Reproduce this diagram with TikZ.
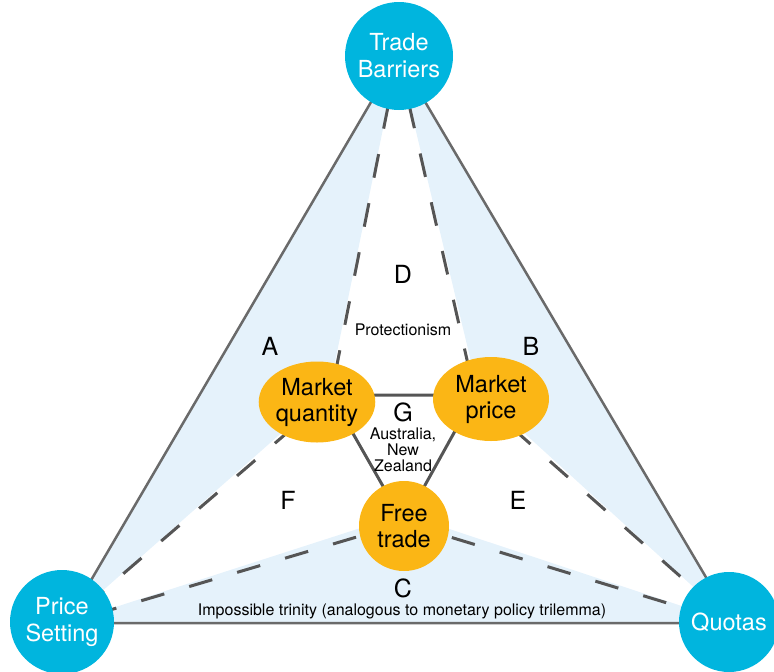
\documentclass[tikz,border=0pt]{standalone}
\usepackage{fontspec}
\setmainfont{TeX Gyre Heros}
\usetikzlibrary{shapes.geometric}
\definecolor{cyanc}{HTML}{00B5DE}
\definecolor{orangec}{HTML}{FBB615}
\definecolor{bluefill}{HTML}{E5F2FB}
\definecolor{linegray}{HTML}{6A6A6A}
\definecolor{dashgray}{HTML}{555555}
\begin{document}
\begin{tikzpicture}[x=1pt,y=-1pt,
  outerline/.style={draw=linegray, line width=2.5pt},
  innerline/.style={draw=dashgray, line width=3pt},
  dashline/.style={draw=dashgray, line width=3pt, dash pattern=on 24pt off 26pt},
  bigcirc/.style={circle, fill=cyanc, inner sep=0pt, minimum size=#1, text=white, align=center, font=\fontsize{23.5}{27}\selectfont},
  oval/.style={ellipse, fill=orangec, inner sep=0pt, align=center, font=\fontsize{23.5}{26}\selectfont},
  regionlabel/.style={font=\fontsize{25}{28}\selectfont},
  smalltext/.style={font=\fontsize{16}{16}\selectfont, align=center, inner sep=0pt}
]
\useasboundingbox (0,0) rectangle (774,672);
% hubs
\coordinate (tbh) at (398,56);
\coordinate (psh) at (66,623);
\coordinate (qh) at (733,623);
\coordinate (hq) at (331,395);
\coordinate (hp) at (475,395);
\coordinate (hf) at (404,523);
% blue regions
\fill[bluefill] (tbh) -- (psh) -- (329,391) -- cycle;
\fill[bluefill] (tbh) -- (qh) -- (478,391) -- cycle;
\fill[bluefill] (psh) -- (404,514) -- (qh) -- cycle;
% outer triangle
\draw[outerline] (tbh) -- (psh) -- (qh) -- cycle;
% dashed spokes
\draw[dashline] (tbh) -- (hq);
\draw[dashline] (tbh) -- (hp);
\draw[dashline] (hq) -- (psh);
\draw[dashline] (hp) -- (qh);
\draw[dashline] (hf) -- (psh);
\draw[dashline] (hf) -- (qh);
% inner triangle
\draw[innerline] (hq) -- (hp) -- (hf) -- cycle;
% nodes
\node[bigcirc=108pt] (TB) at (399,56) {Trade\\Barriers};
\node[bigcirc=104pt] (PS) at (62,622) {Price\\Setting};
\node[bigcirc=100pt] (Q) at (729,622) {Quotas};
\node[oval, minimum width=110pt, minimum height=81pt] (MQ) at (317,402) {Market\\quantity};
\node[oval, minimum width=116pt, minimum height=84pt] (MP) at (491,399) {Market\\price};
\node[circle, fill=orangec, inner sep=0pt, minimum size=90pt, align=center, font=\fontsize{23.5}{26}\selectfont] (FT) at (404,526) {Free\\trade};
% labels
\node[regionlabel] (lD) at (403,274) {D};
\node[regionlabel] (lA) at (270,346) {A};
\node[regionlabel] (lB) at (531,346) {B};
\node[regionlabel] (lG) at (403,412) {G};
\node[regionlabel] (lF) at (288,500) {F};
\node[regionlabel] (lE) at (518,500) {E};
\node[regionlabel] (lC) at (403,588) {C};
\node[smalltext] (prot) at (403,330) {Protectionism};
\node[smalltext] (anz) at (403,450) {Australia,\\New\\Zealand};
\node[smalltext] (trin) at (402,611) {Impossible trinity (analogous to monetary policy trilemma)};
\end{tikzpicture}
\end{document}
